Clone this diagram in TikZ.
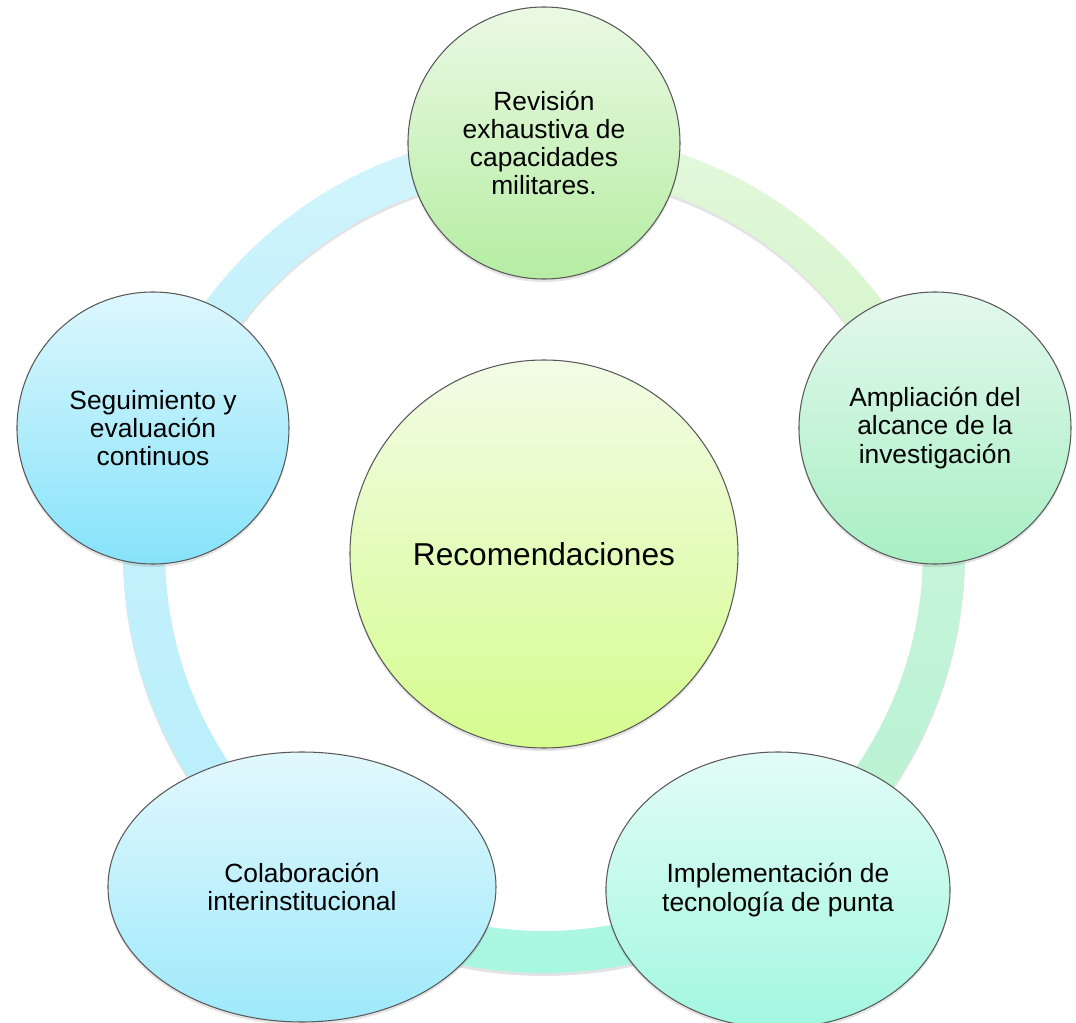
\documentclass[tikz,border=0pt]{standalone}
\usepackage{fontspec}
\setmainfont{Liberation Sans}
\usetikzlibrary{shapes.geometric,shadows}

\definecolor{topA}{HTML}{EBF9E4}
\definecolor{topB}{HTML}{B5EDA2}
\definecolor{rightA}{HTML}{E3F8EC}
\definecolor{rightB}{HTML}{A8EFC4}
\definecolor{lowrA}{HTML}{E2FCF6}
\definecolor{lowrB}{HTML}{A2F7E0}
\definecolor{lowlA}{HTML}{E2F8FD}
\definecolor{lowlB}{HTML}{9EE9FB}
\definecolor{leftA}{HTML}{DDF7FD}
\definecolor{leftB}{HTML}{86E3FB}
\definecolor{hubA}{HTML}{F2FCE6}
\definecolor{hubB}{HTML}{D6FC8E}
% ring pieces
\definecolor{segTLa}{HTML}{D3F5FC}
\definecolor{segTLb}{HTML}{BCEFFB}
\definecolor{segTRa}{HTML}{E4F8DC}
\definecolor{segTRb}{HTML}{D0F4C6}
\definecolor{segRBa}{HTML}{CDF5DD}
\definecolor{segRBb}{HTML}{B5F2D0}
\definecolor{segBa}{HTML}{B0F8E4}
\definecolor{segBb}{HTML}{A6F7DF}
\definecolor{segLBa}{HTML}{C8F2FC}
\definecolor{segLBb}{HTML}{B6EEFB}

\begin{document}
\begin{tikzpicture}[line width=0.6pt,
  soft shadow/.style={drop shadow={shadow xshift=0pt,shadow yshift=-0.06cm,opacity=0.22}},
  main node/.style={circle,draw=black!65,minimum size=5.44cm,align=center,soft shadow,font=\fontsize{15}{16}\selectfont},
  oval node/.style={ellipse,draw=black!65,align=center,soft shadow,font=\fontsize{15}{16}\selectfont},
  hub node/.style={circle,draw=black!65,minimum size=7.76cm,soft shadow,font=\fontsize{18}{20}\selectfont},
  ring seg/.style={soft shadow}]
  \useasboundingbox (-10.88,-9.42) rectangle (10.64,11.04);

  % ring between the outer nodes
  \shade[ring seg,top color=segTLa,bottom color=segTLb] (90:8.42) arc (90:162:8.42) -- (162:7.58) arc (162:90:7.58) -- cycle;
  \shade[ring seg,top color=segTRa,bottom color=segTRb] (18:8.42) arc (18:90:8.42) -- (90:7.58) arc (90:18:7.58) -- cycle;
  \shade[ring seg,top color=segRBa,bottom color=segRBb] (-54:8.42) arc (-54:18:8.42) -- (18:7.58) arc (18:-54:7.58) -- cycle;
  \shade[ring seg,top color=segBa,bottom color=segBb] (234:8.42) arc (234:306:8.42) -- (306:7.58) arc (306:234:7.58) -- cycle;
  \shade[ring seg,top color=segLBa,bottom color=segLBb] (162:8.42) arc (162:234:8.42) -- (234:7.58) arc (234:162:7.58) -- cycle;

  \node[hub node,top color=hubA,bottom color=hubB] (0) at (0,-0.04) {Recomendaciones};
  \node[main node,top color=topA,bottom color=topB] (1) at (0,8.18) {Revisión\\exhaustiva de\\capacidades\\militares.};
  \node[main node,top color=rightA,bottom color=rightB] (2) at (7.82,2.48) {Ampliación del\\alcance de la\\investigación};
  \node[oval node,minimum width=6.84cm,minimum height=5.52cm,top color=lowrA,bottom color=lowrB] (3) at (4.68,-6.76) {Implementación de\\tecnología de punta};
  \node[oval node,minimum width=7.76cm,minimum height=5.40cm,top color=lowlA,bottom color=lowlB] (4) at (-4.84,-6.70) {Colaboración\\interinstitucional};
  \node[main node,top color=leftA,bottom color=leftB] (5) at (-7.82,2.48) {Seguimiento y\\evaluación\\continuos};
\end{tikzpicture}
\end{document}
